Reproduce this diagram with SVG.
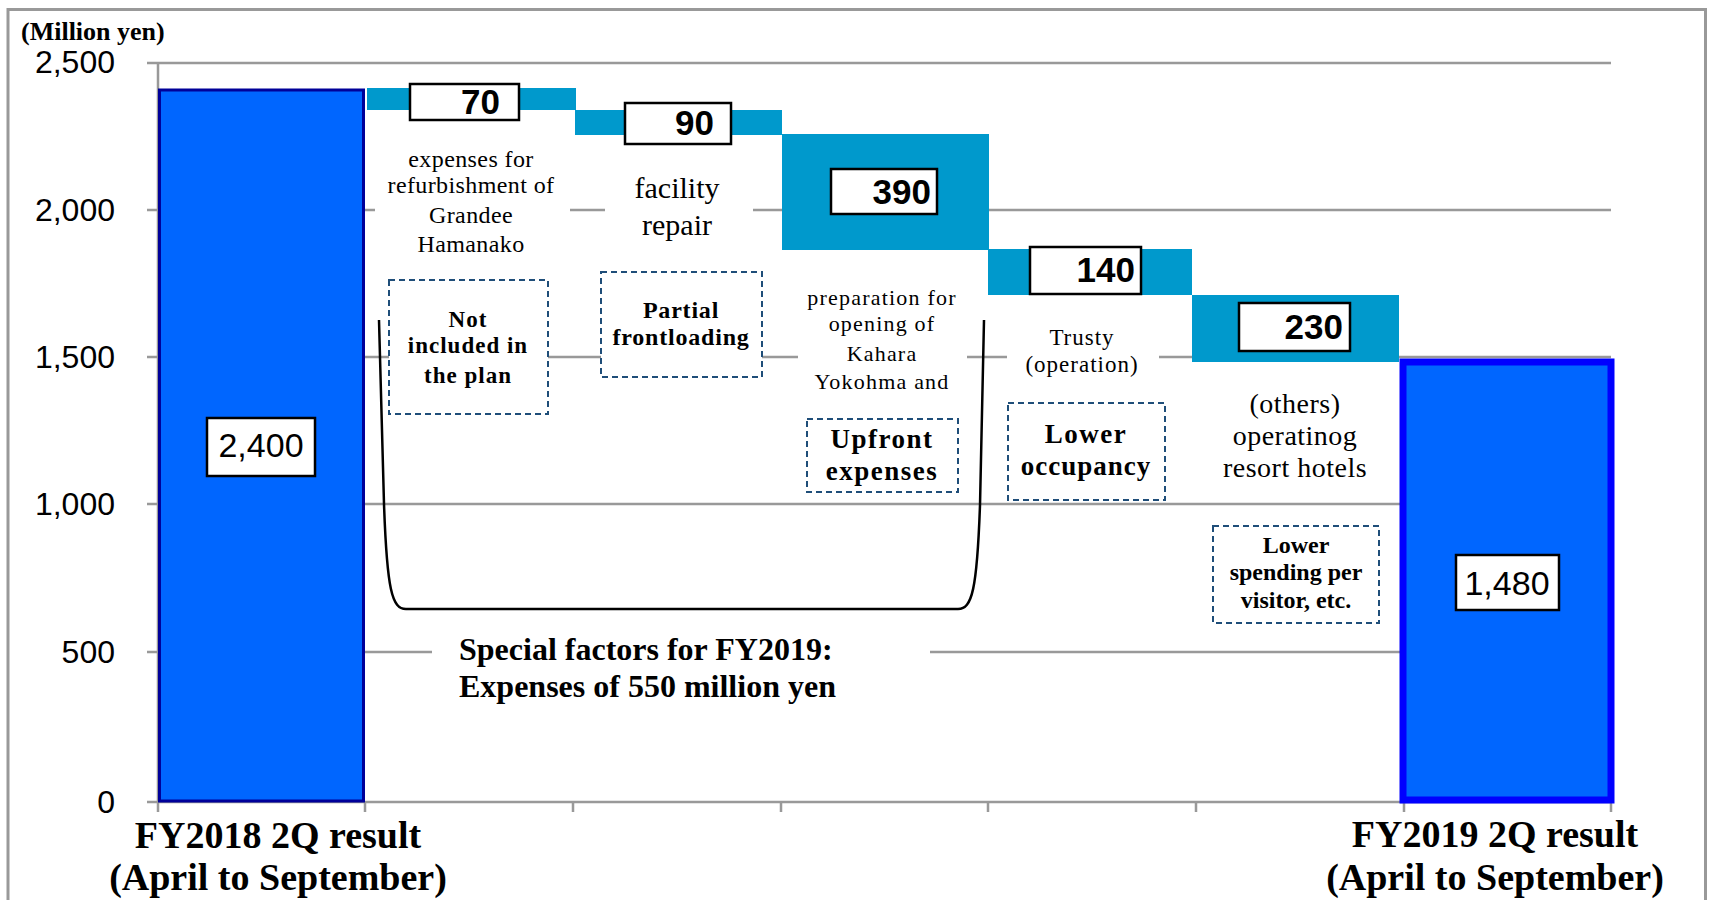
<svg xmlns="http://www.w3.org/2000/svg" width="1710" height="900" viewBox="0 0 1710 900">
<style>
.grid{stroke:#999;stroke-width:2.5;fill:none}
.tick{font-family:"Liberation Sans",Arial,sans-serif;font-size:32px;fill:#000;text-anchor:end}
.float{fill:#0099CC}
.vbox{fill:#fff;stroke:#000;stroke-width:2.5}
.vnum{font-family:"Liberation Sans",Arial,sans-serif;font-size:35px;font-weight:bold;fill:#000;text-anchor:end}
.tnum{font-family:"Liberation Sans",Arial,sans-serif;font-size:34px;fill:#000;text-anchor:middle}
.lbl{font-family:"Liberation Serif","Times New Roman",serif;fill:#000;text-anchor:middle}
.bold{font-family:"Liberation Serif","Times New Roman",serif;font-weight:bold;fill:#000;text-anchor:middle}
.dash{fill:#fff;stroke:#1F4E79;stroke-width:2;stroke-dasharray:6 4}
.wbg{fill:#fff}
</style>
<rect x="0" y="0" width="1710" height="900" fill="#fff"/>
<rect x="8" y="9.5" width="1697.5" height="900" fill="none" stroke="#999" stroke-width="3"/>
<text x="21" y="40" style="font-family:'Liberation Serif','Times New Roman',serif;font-weight:bold;font-size:26px">(Million yen)</text>

<g id="axes">
<line class="grid" x1="147" y1="63" x2="1611" y2="63"/>
<line class="grid" x1="147" y1="210" x2="1611" y2="210"/>
<line class="grid" x1="147" y1="357" x2="1611" y2="357"/>
<line class="grid" x1="147" y1="504" x2="1611" y2="504"/>
<line class="grid" x1="147" y1="652" x2="1611" y2="652"/>
<line class="grid" x1="147" y1="802" x2="1611" y2="802"/>
<line class="grid" x1="158" y1="63" x2="158" y2="812"/>
<path class="grid" d="M365,802V812M573,802V812M781,802V812M988,802V812M1196,802V812M1404,802V812M1611,802V812"/>
<text class="tick" x="115" y="73">2,500</text>
<text class="tick" x="115" y="221">2,000</text>
<text class="tick" x="115" y="368">1,500</text>
<text class="tick" x="115" y="515">1,000</text>
<text class="tick" x="115" y="663">500</text>
<text class="tick" x="115" y="813">0</text>
</g>

<g id="text-backgrounds">
<rect class="wbg" x="375" y="140" width="195" height="122"/>
<rect class="wbg" x="605" y="170" width="148" height="75"/>
<rect class="wbg" x="798" y="280" width="169" height="118"/>
<rect class="wbg" x="1007" y="320" width="152" height="60"/>
<rect class="wbg" x="1211" y="385" width="169" height="100"/>
<rect class="wbg" x="432" y="630" width="498" height="80"/>
</g>

<g id="bar-fy2018">
<rect x="159.5" y="90" width="204" height="711" fill="#0066FF" stroke="#000099" stroke-width="3"/>
<rect class="vbox" x="207" y="418" width="108" height="58"/>
<text class="tnum" x="261" y="457">2,400</text>
</g>

<g id="bar-70">
<rect class="float" x="367" y="88" width="209" height="22"/>
<rect class="vbox" x="410" y="84" width="109" height="36"/>
<text class="vnum" x="500" y="114">70</text>
<text class="lbl" style="font-size:24px;letter-spacing:0.4px" x="471" y="167">expenses for</text>
<text class="lbl" style="font-size:24px;letter-spacing:0.4px" x="471" y="193">refurbishment of</text>
<text class="lbl" style="font-size:24px;letter-spacing:0.4px" x="471" y="223">Grandee</text>
<text class="lbl" style="font-size:24px;letter-spacing:0.4px" x="471" y="252">Hamanako</text>
</g>

<g id="box-not-included">
<rect class="dash" x="389" y="280" width="159" height="134"/>
<text class="bold" style="font-size:23px;letter-spacing:1px" x="468" y="327">Not</text>
<text class="bold" style="font-size:23px;letter-spacing:1px" x="468" y="353">included in</text>
<text class="bold" style="font-size:23px;letter-spacing:1px" x="468" y="383">the plan</text>
</g>

<g id="bar-90">
<rect class="float" x="575" y="110" width="207" height="25"/>
<rect class="vbox" x="625" y="103" width="106" height="41"/>
<text class="vnum" x="714" y="135">90</text>
<text class="lbl" style="font-size:30px" x="677" y="198">facility</text>
<text class="lbl" style="font-size:30px" x="677" y="235">repair</text>
</g>

<g id="box-partial">
<rect class="dash" x="601" y="272" width="161" height="105"/>
<text class="bold" style="font-size:24px;letter-spacing:0.8px" x="681" y="318">Partial</text>
<text class="bold" style="font-size:24px;letter-spacing:0.8px" x="681" y="345">frontloading</text>
</g>

<g id="bar-390">
<rect class="float" x="782" y="134" width="207" height="116"/>
<rect class="vbox" x="831" y="169" width="106" height="45"/>
<text class="vnum" x="931" y="204">390</text>
<text class="lbl" style="font-size:22px;letter-spacing:1.2px" x="882" y="305">preparation for</text>
<text class="lbl" style="font-size:22px;letter-spacing:1.2px" x="882" y="331">opening of</text>
<text class="lbl" style="font-size:22px;letter-spacing:1.2px" x="882" y="361">Kahara</text>
<text class="lbl" style="font-size:22px;letter-spacing:1.2px" x="882" y="389">Yokohma and</text>
</g>

<g id="box-upfront">
<rect class="dash" x="807" y="419" width="151" height="73"/>
<text class="bold" style="font-size:27px;letter-spacing:1.5px" x="882" y="448">Upfront</text>
<text class="bold" style="font-size:27px;letter-spacing:1.5px" x="882" y="480">expenses</text>
</g>

<g id="bar-140">
<rect class="float" x="988" y="249" width="204" height="46"/>
<rect class="vbox" x="1030" y="247" width="111" height="47"/>
<text class="vnum" x="1135" y="282">140</text>
<text class="lbl" style="font-size:23px;letter-spacing:1px" x="1082" y="345">Trusty</text>
<text class="lbl" style="font-size:23px;letter-spacing:1px" x="1082" y="372">(operation)</text>
</g>

<g id="box-lower-occupancy">
<rect class="dash" x="1008" y="403" width="157" height="97"/>
<text class="bold" style="font-size:27px;letter-spacing:1.5px" x="1086" y="443">Lower</text>
<text class="bold" style="font-size:27px;letter-spacing:1px" x="1086" y="475">occupancy</text>
</g>

<g id="bar-230">
<rect class="float" x="1192" y="295" width="207" height="67"/>
<rect class="vbox" x="1239" y="303" width="111" height="48"/>
<text class="vnum" x="1343" y="339">230</text>
<text class="lbl" style="font-size:28px;letter-spacing:0.5px" x="1295" y="413">(others)</text>
<text class="lbl" style="font-size:28px;letter-spacing:0.5px" x="1295" y="445">operatinog</text>
<text class="lbl" style="font-size:28px;letter-spacing:0.5px" x="1295" y="477">resort hotels</text>
</g>

<g id="box-lower-spending">
<rect class="dash" x="1213" y="526" width="166" height="97"/>
<text class="bold" style="font-size:24px" x="1296" y="553">Lower</text>
<text class="bold" style="font-size:24px" x="1296" y="580">spending per</text>
<text class="bold" style="font-size:24px" x="1296" y="608">visitor, etc.</text>
</g>

<g id="bar-fy2019">
<rect x="1403" y="362" width="208" height="438" fill="#0066FF" stroke="#0000FF" stroke-width="7"/>
<rect class="vbox" x="1456" y="555" width="103" height="55"/>
<text class="tnum" x="1507" y="595">1,480</text>
</g>

<g id="connectors">
<path d="M379,320 L384,504 C387,590 392,609 406,609 L958,609 C972,609 977,590 980,505 L984,320" fill="none" stroke="#000" stroke-width="2.5"/>
</g>

<g id="special-factors">
<text style="font-family:'Liberation Serif','Times New Roman',serif;font-weight:bold;font-size:32px" x="459" y="660">Special factors for FY2019:</text>
<text style="font-family:'Liberation Serif','Times New Roman',serif;font-weight:bold;font-size:32px" x="459" y="697">Expenses of 550 million yen</text>
</g>

<g id="category-labels">
<text class="bold" style="font-size:38px" x="278" y="848">FY2018 2Q result</text>
<text class="bold" style="font-size:38px" x="278" y="890">(April to September)</text>
<text class="bold" style="font-size:38px" x="1495" y="847">FY2019 2Q result</text>
<text class="bold" style="font-size:38px" x="1495" y="890">(April to September)</text>
</g>
</svg>
